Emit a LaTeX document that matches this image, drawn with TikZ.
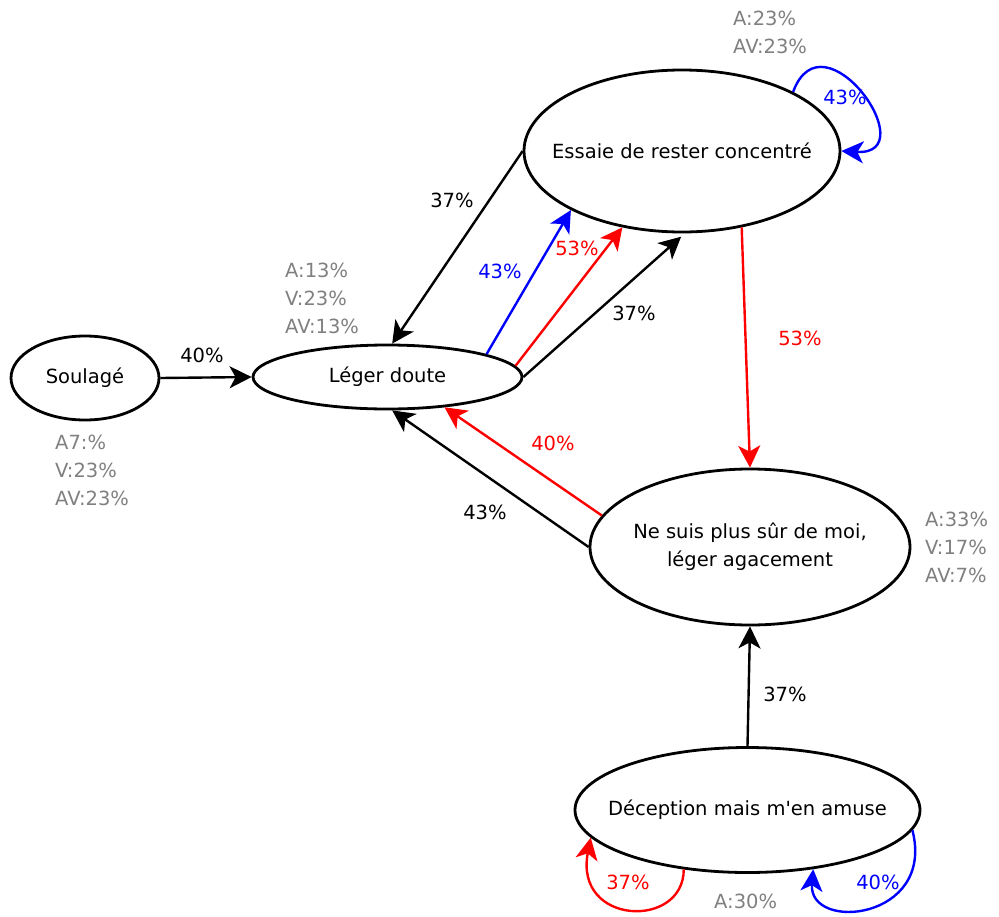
\documentclass[tikz,border=0pt]{standalone}
\usepackage{fontspec}
\setmainfont{DejaVu Sans}
\usetikzlibrary{arrows.meta, shapes.geometric}

\begin{document}
\begin{tikzpicture}[
    x=1pt, y=-1pt,
    font=\fontsize{19.5}{28}\selectfont,
    state/.style={draw, ellipse, line width=2.8pt, inner xsep=-90pt, inner ysep=-30pt, align=center},
    arr/.style={-{Stealth[length=22pt, width=22pt, inset=6pt]}, line width=2.4pt},
    pct/.style={inner sep=0pt},
    stats/.style={text=gray, align=left, anchor=west, inner sep=0pt}
  ]
  \useasboundingbox (0,0) rectangle (999,916);

  % states
  \node[state, minimum width=148pt, minimum height=84pt] (soulage) at (85,378) {Soulagé};
  \node[state, minimum width=269pt, minimum height=64pt] (leger) at (387.5,377) {Léger doute};
  \node[state, minimum width=316pt, minimum height=162pt] (essaie) at (682,151) {Essaie de rester concentré};
  \node[state, minimum width=320pt, minimum height=156pt] (nesuis) at (750,547) {Ne suis plus sûr de moi,\\léger agacement};
  \node[state, minimum width=345pt, minimum height=125pt] (deception) at (747.5,810) {Déception mais m\textquotesingle en amuse};

  % stats
  \node[stats] (stSoulage) at (55,470) {A7:\%\\V:23\%\\AV:23\%};
  \node[stats] (stLeger) at (285,298) {A:13\%\\V:23\%\\AV:13\%};
  \node[stats] (stEssaie) at (733,32) {A:23\%\\AV:23\%};
  \node[stats] (stNesuis) at (925,547) {A:33\%\\V:17\%\\AV:7\%};
  \node[stats] (stDeception) at (714,901) {A:30\%};

  % transitions
  \draw[arr] (soulage.east) -- (leger.west);
  \draw[arr] (essaie.west) -- (leger.82);
  \draw[arr, blue] (leger.13) -- (essaie.-152);
  \draw[arr, red] (leger.5.5) -- (essaie.232);
  \draw[arr, shorten >=5pt] (leger.east) -- (essaie.-88);
  \draw[arr, red] (essaie.-52) -- (nesuis.north);
  \draw[arr, red] (nesuis.168) -- (leger.-28);
  \draw[arr] (nesuis.west) -- (leger.-82);
  \draw[arr] (deception.north) -- (nesuis.south);

  % loops
  \draw[arr, blue] (essaie.28) .. controls +(30,-82) and +(85,5) .. (essaie.east);
  \draw[arr, red] (deception.-137) .. controls +(0,60) and +(-17,88) .. (deception.-170);
  \draw[arr, blue] (deception.-7) .. controls +(23,90) and +(-5,63) .. (deception.-42);

  % percentages
  \node[pct] (pSoulLeger) at (202,355) {40\%};
  \node[pct] (pEssLeger) at (452,200) {37\%};
  \node[pct, text=blue] (pLegEssB) at (500,271) {43\%};
  \node[pct, text=red] (pLegEssR) at (577,248) {53\%};
  \node[pct] (pLegEssK) at (634,313) {37\%};
  \node[pct, text=red] (pEssNe) at (800,338) {53\%};
  \node[pct, text=red] (pNeLegR) at (553,443) {40\%};
  \node[pct] (pNeLegK) at (485,512) {43\%};
  \node[pct] (pDecNe) at (785,694) {37\%};
  \node[pct, text=blue] (pEssLoop) at (845,97) {43\%};
  \node[pct, text=red] (pDecLoopR) at (628,882) {37\%};
  \node[pct, text=blue] (pDecLoopB) at (878,882) {40\%};
\end{tikzpicture}
\end{document}
